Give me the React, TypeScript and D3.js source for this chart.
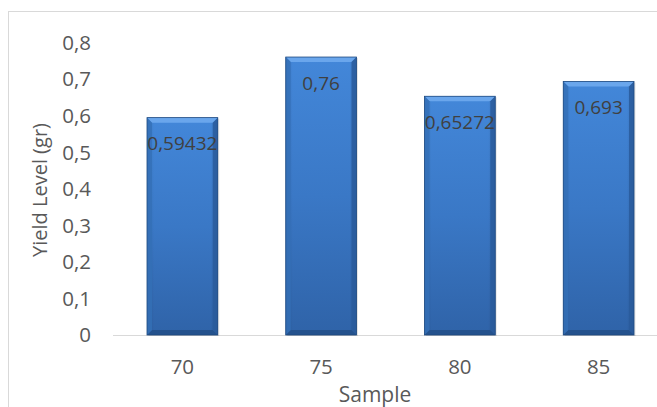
import React from "react";
import * as d3 from "d3";

const categories = ["70", "75", "80", "85"];
const values = [0.59432, 0.76, 0.65272, 0.693];
const valueLabels = ["0,59432", "0,76", "0,65272", "0,693"];
const yTicks = [0, 0.1, 0.2, 0.3, 0.4, 0.5, 0.6, 0.7, 0.8];

const W = 657;
const H = 407;
const FONT = "'Open Sans', 'Liberation Sans', sans-serif";

export default function App() {
  const x = d3.scaleBand<string>().domain(categories).range([113, 668]).paddingInner(0.49).paddingOuter(0.245);
  const y = d3.scaleLinear().domain([0, 0.8]).range([335, 42.4]);
  const fmt = (v: number) => d3.format(".1f")(v).replace(".", ",").replace(/^0,0$/, "0");
  const bev = 5;

  return (
    <svg width={W} height={H} style={{ position: "absolute", left: 0, top: 0 }} fontFamily={FONT}>
      <defs>
        <linearGradient id="vg" x1="0" y1="0" x2="0" y2="1">
          <stop offset="0" stopColor="#4387d9" />
          <stop offset="0.5" stopColor="#3a78c6" />
          <stop offset="1" stopColor="#2f63a8" />
        </linearGradient>
        <linearGradient id="hg" x1="0" y1="0" x2="1" y2="0">
          <stop offset="0" stopColor="#000" stopOpacity="0.12" />
          <stop offset="0.1" stopColor="#000" stopOpacity="0" />
          <stop offset="0.9" stopColor="#000" stopOpacity="0" />
          <stop offset="1" stopColor="#000" stopOpacity="0.16" />
        </linearGradient>
      </defs>
      <rect x={8.5} y={11.5} width={W + 10} height={H + 10} fill="#fff" stroke="#d9d9d9" strokeWidth={1} />
      {yTicks.map((t) => (
        <text key={t} x={91} y={y(t)} dy="0.36em" textAnchor="end" fontSize={20.5} fill="#595959">
          {fmt(t)}
        </text>
      ))}
      <line x1={113} x2={W} y1={335.5} y2={335.5} stroke="#d9d9d9" strokeWidth={1.2} />
      {categories.map((c, i) => {
        const bx = x(c)!;
        const bw = x.bandwidth();
        const by = y(values[i]);
        const bh = 335 - by;
        return (
          <g key={c}>
            <rect x={bx + 1.5} y={by + 1} width={bw} height={bh} fill="#000" opacity={0.1} />
            <rect x={bx} y={by} width={bw} height={bh} fill="url(#vg)" />
            <rect x={bx} y={by} width={bw} height={bh} fill="url(#hg)" />
            <polygon
              points={`${bx},${by} ${bx + bw},${by} ${bx + bw - bev},${by + bev} ${bx + bev},${by + bev}`}
              fill="#6aa6ec"
            />
            <polygon
              points={`${bx},${by + bh} ${bx + bw},${by + bh} ${bx + bw - bev},${by + bh - bev} ${bx + bev},${by + bh - bev}`}
              fill="#24528d"
            />
            <polygon
              points={`${bx},${by} ${bx + bev},${by + bev} ${bx + bev},${by + bh - bev} ${bx},${by + bh}`}
              fill="#3571b8"
              opacity={0.8}
            />
            <polygon
              points={`${bx + bw},${by} ${bx + bw - bev},${by + bev} ${bx + bw - bev},${by + bh - bev} ${bx + bw},${by + bh}`}
              fill="#2a5c9c"
              opacity={0.85}
            />
            <rect x={bx} y={by} width={bw} height={bh} fill="none" stroke="#1f4a80" strokeWidth={0.8} />
            <text x={bx + bw / 2} y={by + 26} dy="0.36em" textAnchor="middle" fontSize={19} fill="#404040">
              {valueLabels[i]}
            </text>
            <text x={bx + bw / 2} y={367} dy="0.36em" textAnchor="middle" fontSize={20.5} fill="#595959">
              {c}
            </text>
          </g>
        );
      })}
      <text x={375} y={394} dy="0.36em" textAnchor="middle" fontSize={21} fill="#595959">
        Sample
      </text>
      <text
        transform={`translate(40,190) rotate(-90)`}
        dy="0.36em"
        textAnchor="middle"
        fontSize={20}
        fill="#595959"
      >
        Yield Level (gr)
      </text>
    </svg>
  );
}
